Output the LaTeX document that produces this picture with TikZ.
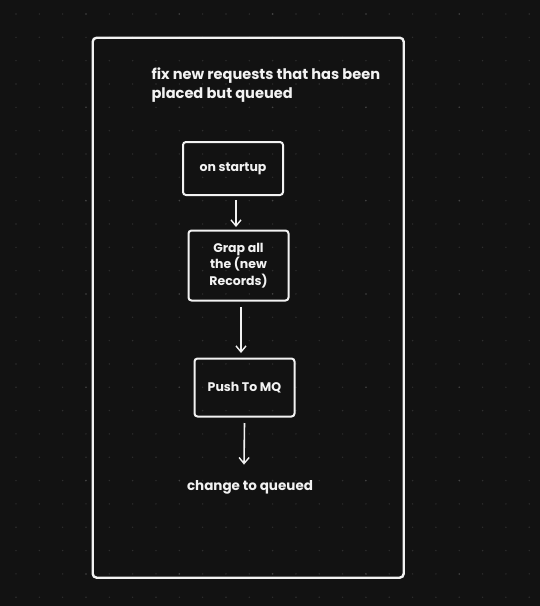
\documentclass[tikz,border=0pt]{standalone}
\usepackage{fontspec}
\setmainfont{Poppins}
\usetikzlibrary{arrows.meta}
\definecolor{bg}{HTML}{121212}
\definecolor{dotc}{HTML}{2E2E2E}
\definecolor{dotmaj}{HTML}{444444}
\definecolor{ink}{HTML}{F2F2F2}
\tikzset{
  frame/.style={draw=ink, line width=2.4pt, rounded corners=4pt},
  stepbox/.style={draw=ink, line width=2pt, rounded corners=3pt, text=ink, align=center, font=\fontsize{12.5}{16.5}\selectfont\bfseries, inner sep=0pt},
  label/.style={text=ink, align=left, font=\fontsize{14.6}{19}\selectfont\bfseries},
  flow/.style={draw=ink, line width=1.6pt, -{Straight Barb[length=6pt,width=10pt,line width=1.4pt]}},
}
\begin{document}
\begin{tikzpicture}[x=1pt,y=-1pt]
\fill[bg] (0,0) rectangle (540,606);
\useasboundingbox (0,0) rectangle (540,606);
\foreach \i in {0,...,22} {
  \foreach \j in {0,...,25} {
    \pgfmathtruncatemacro{\mi}{mod(\i+1,4)}
    \pgfmathtruncatemacro{\mj}{mod(\j,4)}
    \ifnum\mi=0 \ifnum\mj=0
      \fill[dotmaj] ({16+23.33*\i},{14+23.33*\j}) circle (0.9);
    \else
      \fill[dotc] ({16+23.33*\i},{14+23.33*\j}) circle (0.8);
    \fi\else
      \fill[dotc] ({16+23.33*\i},{14+23.33*\j}) circle (0.8);
    \fi
  }
}
\node[frame, minimum width=311pt, minimum height=540pt, anchor=north west] (outer) at (91.5,36.5) {};
\node[label, anchor=north west] (title) at (148,64) {fix new requests that has been\\placed but queued};
\node[stepbox, minimum width=100pt, minimum height=53pt] (s1) at (233,168.5) {\vspace*{4pt}on startup};
\node[stepbox, minimum width=100pt, minimum height=70pt] (s2) at (238.5,265.5) {\vspace*{4pt}Grap all\\the (new\\Records)};
\node[stepbox, minimum width=100pt, minimum height=58pt] (s3) at (244.5,387.5) {\vspace*{4pt}Push To MQ};
\node[text=ink, font=\fontsize{13.5}{16}\selectfont\bfseries] (s4) at (250,487) {change to queued};
\draw[flow] ([xshift=3pt,yshift=-4pt]s1.south) -- ([xshift=-2.5pt,yshift=2.5pt]s2.north);
\draw[flow] ([xshift=2.5pt,yshift=-5.5pt]s2.south) -- ([xshift=-3.5pt,yshift=4.5pt]s3.north);
\draw[flow] ([yshift=-5.5pt]s3.south) -- ([xshift=-6pt,yshift=12pt]s4.north);
\end{tikzpicture}
\end{document}
